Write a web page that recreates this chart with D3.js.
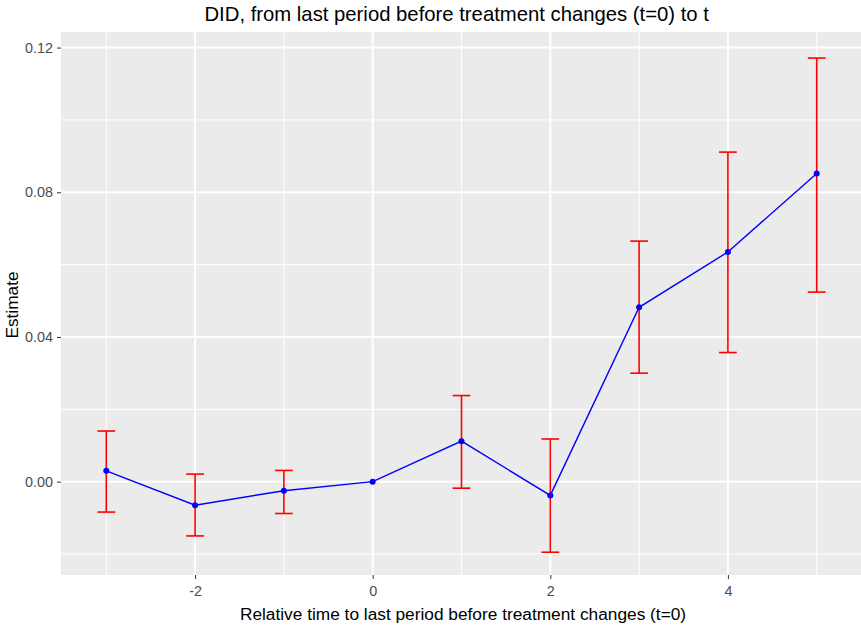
<!DOCTYPE html>
<html>
<head>
<meta charset="utf-8">
<script src="https://cdn.jsdelivr.net/npm/d3@7"></script>
<style>
  html, body { margin: 0; padding: 0; background: #fff; }
  svg { display: block; font-family: "Liberation Sans", Arial, sans-serif; }
</style>
</head>
<body>
<svg id="chart" width="861" height="625"></svg>
<script>
// Event-study estimates relative to the last period before treatment changes
const periods   = [-3, -2, -1, 0, 1, 2, 3, 4, 5];
const estimates = [0.0030, -0.0065, -0.0025, 0.0000, 0.0112, -0.0038, 0.0482, 0.0635, 0.0852];
const upperCI   = [0.0140, 0.0021, 0.0031, 0.0000, 0.0238, 0.0118, 0.0665, 0.0911, 0.1171];
const lowerCI   = [-0.0084, -0.0150, -0.0088, 0.0000, -0.0018, -0.0195, 0.0300, 0.0357, 0.0524];

const xMajor = [-2, 0, 2, 4];
const xMinor = [-3, -1, 1, 3, 5];
const yMajor = [0.00, 0.04, 0.08, 0.12];
const yMinor = [-0.02, 0.02, 0.06, 0.10];
const xTickLabels = ["-2", "0", "2", "4"];
const yTickLabels = ["0.00", "0.04", "0.08", "0.12"];

const titleText = "DID, from last period before treatment changes (t=0) to t";
const xTitle = "Relative time to last period before treatment changes (t=0)";
const yTitle = "Estimate";

const svg = d3.select("#chart");
const panel = { left: 61, right: 862, top: 32, bottom: 575 };

const x = d3.scaleLinear().domain([-3.51, 5.51]).range([panel.left, panel.right]);
const y = d3.scaleLinear().domain([-0.0258, 0.1243]).range([panel.bottom, panel.top]);

// panel background
svg.append("rect")
  .attr("x", panel.left).attr("y", panel.top)
  .attr("width", panel.right - panel.left).attr("height", panel.bottom - panel.top)
  .attr("fill", "#EBEBEB");

const grid = svg.append("g");
// minor grid
grid.selectAll(".ymin").data(yMinor).join("line")
  .attr("x1", panel.left).attr("x2", panel.right)
  .attr("y1", d => y(d)).attr("y2", d => y(d))
  .attr("stroke", "#fff").attr("stroke-width", 1);
grid.selectAll(".xmin").data(xMinor).join("line")
  .attr("y1", panel.top).attr("y2", panel.bottom)
  .attr("x1", d => x(d)).attr("x2", d => x(d))
  .attr("stroke", "#fff").attr("stroke-width", 1);
// major grid
grid.selectAll(".ymaj").data(yMajor).join("line")
  .attr("x1", panel.left).attr("x2", panel.right)
  .attr("y1", d => y(d)).attr("y2", d => y(d))
  .attr("stroke", "#fff").attr("stroke-width", 2);
grid.selectAll(".xmaj").data(xMajor).join("line")
  .attr("y1", panel.top).attr("y2", panel.bottom)
  .attr("x1", d => x(d)).attr("x2", d => x(d))
  .attr("stroke", "#fff").attr("stroke-width", 2);

// axes
const xAxis = d3.axisBottom(x).tickValues(xMajor).tickSize(4).tickPadding(7)
  .tickFormat((d, i) => xTickLabels[i]);
const yAxis = d3.axisLeft(y).tickValues(yMajor).tickSize(4).tickPadding(4)
  .tickFormat((d, i) => yTickLabels[i]);

const gx = svg.append("g").attr("transform", `translate(0,${panel.bottom})`).call(xAxis);
const gy = svg.append("g").attr("transform", `translate(${panel.left},0)`).call(yAxis);
[gx, gy].forEach(g => {
  g.select(".domain").remove();
  g.selectAll(".tick line").attr("stroke", "#333333").attr("stroke-width", 1);
  g.selectAll(".tick text").attr("fill", "#4D4D4D")
    .style("font-size", "14.4px").style("font-family", "Liberation Sans, Arial, sans-serif");
});

// error bars
const rows = periods.map((p, i) => ({ p, est: estimates[i], lo: lowerCI[i], hi: upperCI[i] }));
const capHalf = x(0.1) - x(0);
const eb = svg.append("g").attr("stroke", "#FF0000").attr("stroke-width", 1.6).attr("fill", "none");
rows.filter(d => d.hi !== d.lo).forEach(d => {
  eb.append("line").attr("x1", x(d.p)).attr("x2", x(d.p)).attr("y1", y(d.lo)).attr("y2", y(d.hi));
  eb.append("line").attr("x1", x(d.p) - capHalf).attr("x2", x(d.p) + capHalf).attr("y1", y(d.hi)).attr("y2", y(d.hi));
  eb.append("line").attr("x1", x(d.p) - capHalf).attr("x2", x(d.p) + capHalf).attr("y1", y(d.lo)).attr("y2", y(d.lo));
});

// estimate line and points
svg.append("path").datum(rows)
  .attr("d", d3.line().x(d => x(d.p)).y(d => y(d.est)))
  .attr("fill", "none").attr("stroke", "#0000FF").attr("stroke-width", 1.4);
svg.append("g").selectAll("circle").data(rows).join("circle")
  .attr("cx", d => x(d.p)).attr("cy", d => y(d.est)).attr("r", 3)
  .attr("fill", "#0000FF");

// titles
svg.append("text").attr("x", 456.7).attr("y", 21).attr("text-anchor", "middle")
  .style("font-size", "20.3px").attr("fill", "#000").text(titleText);
svg.append("text").attr("x", 463).attr("y", 620).attr("text-anchor", "middle")
  .style("font-size", "17.3px").attr("fill", "#000").text(xTitle);
svg.append("text").attr("transform", "translate(18.3,305) rotate(-90)").attr("text-anchor", "middle")
  .style("font-size", "17.3px").attr("fill", "#000").text(yTitle);
</script>
</body>
</html>
